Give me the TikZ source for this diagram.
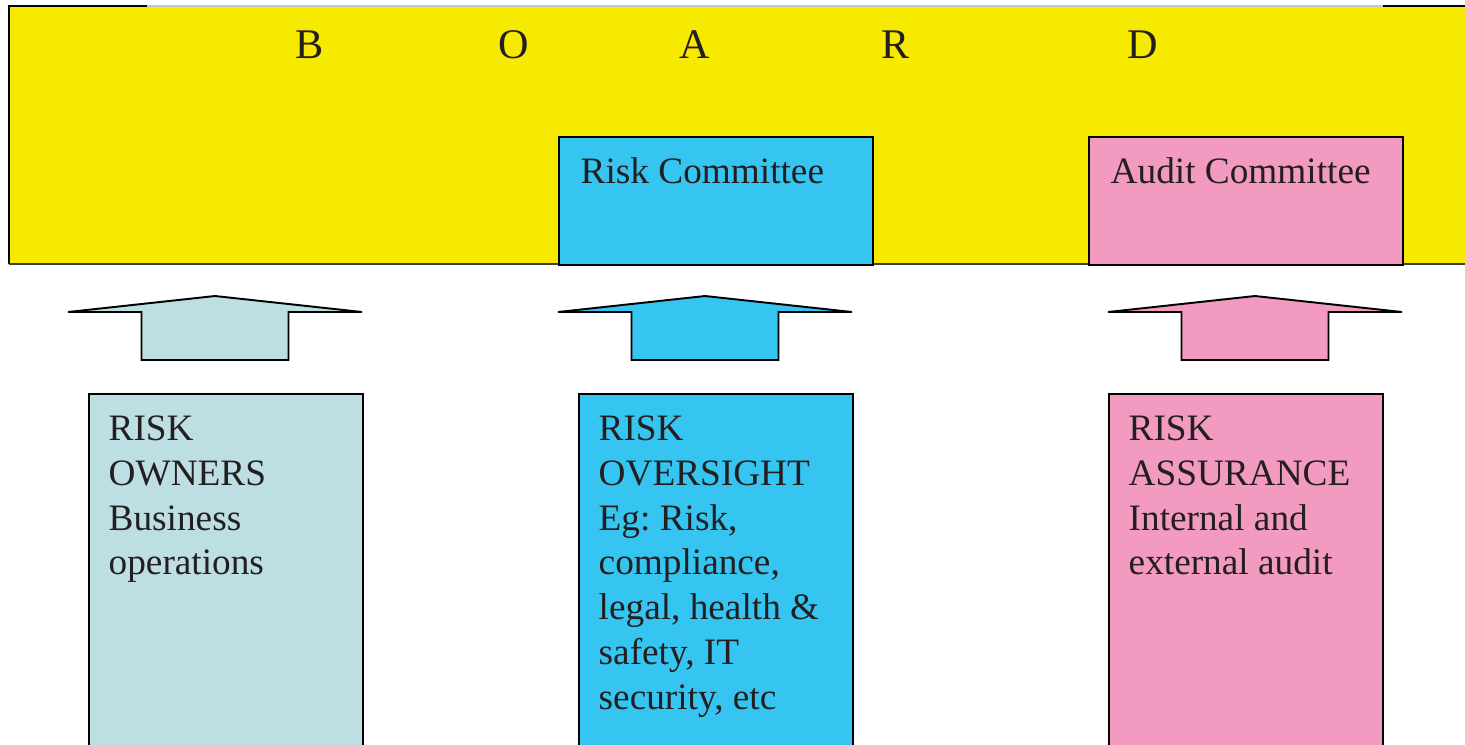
\documentclass[tikz,border=0pt]{standalone}
\usepackage{fontspec}
\setmainfont{Liberation Serif}
\usetikzlibrary{positioning}
\frenchspacing

\definecolor{boardyellow}{RGB}{245,234,0}
\definecolor{oversightblue}{RGB}{54,197,240}
\definecolor{assurancepink}{RGB}{243,154,193}
\definecolor{ownerblue}{RGB}{189,223,227}
\definecolor{inktext}{RGB}{35,31,32}

\tikzset{
  outline/.style={draw=black, line width=0.55pt},
  boardbox/.style={fill=boardyellow, anchor=north west, inner sep=0pt,
    minimum width=14.7cm, minimum height=2.58cm},
  commbox/.style={outline, anchor=north west, inner sep=0pt,
    minimum width=3.14cm, minimum height=1.28cm},
  riskbox/.style={outline, anchor=north west, inner sep=0pt,
    minimum width=2.74cm, minimum height=3.8cm},
  boxtext/.style={anchor=north west, inner sep=0pt, align=left, text=inktext,
    font=\fontsize{10.6}{12.75}\selectfont},
  boardletter/.style={anchor=base west, inner sep=0pt, text=inktext,
    font=\fontsize{12}{14}\selectfont}
}

\begin{document}
\begin{tikzpicture}[x=0.01cm, y=-0.01cm]
    \clip (0,0) rectangle (1465,744);
    \fill[white] (0,0) rectangle (1465,744);

    % le conseil
    \node[boardbox] (board) at (9,6) {};
    \draw[gray!45, line width=0.4pt] (147,6) -- (1383,6);
    \draw[line width=0.7pt] (147,6) -| (9,264);
    \draw[line width=0.7pt] (1383,6) -- (1480,6);
    \draw[black!75, line width=0.55pt] (9,264) -- (1480,264);
    \foreach \lx/\lt [count=\i] in {295/B, 498/O, 679/A, 881/R, 1127/D} {
        \node[boardletter] (letter\i) at (\lx,58) {\lt};
    }

    % comités
    \node[commbox, fill=oversightblue] (riskcomm) at (558,136) {};
    \node[boxtext] (riskcommtext) at ([shift={(22,21)}]riskcomm.north west) {Risk Committee};
    \node[commbox, fill=assurancepink] (auditcomm) at (1088,136) {};
    \node[boxtext] (auditcommtext) at ([shift={(22,21)}]auditcomm.north west) {Audit Committee};

    % les trois lignes
    \node[riskbox, fill=ownerblue] (owners) at (88,393) {};
    \node[boxtext] (ownerstext) at ([shift={(20,22)}]owners.north west)
        {RISK\\OWNERS\\Business\\operations};
    \node[riskbox, fill=oversightblue] (oversight) at (578,393) {};
    \node[boxtext] (oversighttext) at ([shift={(20,22)}]oversight.north west)
        {RISK\\OVERSIGHT\\Eg: Risk,\\compliance,\\legal, health \&\\safety, IT\\security, etc};
    \node[riskbox, fill=assurancepink] (assurance) at (1108,393) {};
    \node[boxtext] (assurancetext) at ([shift={(20,22)}]assurance.north west)
        {RISK\\ASSURANCE\\Internal and\\external audit};

    % flèches vers le conseil
    \foreach \cx/\col in {215/ownerblue, 705/oversightblue, 1255/assurancepink} {
        \draw[outline, fill=\col, line join=miter]
            (\cx-147,312) -- (\cx,296) -- (\cx+147,312) -- (\cx+73.5,312)
            -- (\cx+73.5,360) -- (\cx-73.5,360) -- (\cx-73.5,312) -- cycle;
    }
\end{tikzpicture}
\end{document}
